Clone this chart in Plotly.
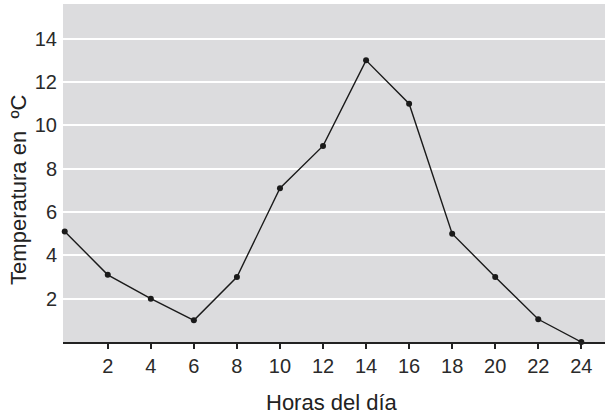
import plotly.graph_objects as go

horas = [0, 2, 4, 6, 8, 10, 12, 14, 16, 18, 20, 22, 24]
temperatura = [5.1, 3.1, 2.0, 1.0, 3.0, 7.1, 9.05, 13.0, 11.0, 5.0, 3.0, 1.05, 0.0]
ticks_x = [2, 4, 6, 8, 10, 12, 14, 16, 18, 20, 22, 24]
ticks_y = [2, 4, 6, 8, 10, 12, 14]

FUENTE = "Liberation Sans, Arial, sans-serif"

fig = go.Figure()
fig.add_trace(
    go.Scatter(
        x=horas,
        y=temperatura,
        mode="lines+markers",
        line=dict(color="#1a1a1a", width=1.4),
        marker=dict(color="#1a1a1a", size=6),
        cliponaxis=False,
        showlegend=False,
    )
)

fig.update_xaxes(
    range=[-0.08, 25.1],
    tickvals=ticks_x,
    ticks="outside",
    ticklen=5,
    tickwidth=1.5,
    tickcolor="#222",
    showgrid=False,
    zeroline=False,
    showline=True,
    linecolor="#222",
    linewidth=1.5,
    tickfont=dict(family=FUENTE, size=20, color="#2a2a2a"),
)
fig.update_yaxes(
    range=[0, 15.6],
    tickvals=ticks_y,
    showgrid=True,
    gridcolor="white",
    gridwidth=1.5,
    zeroline=False,
    showline=False,
    ticks="",
    ticklabelstandoff=5,
    tickfont=dict(family=FUENTE, size=20, color="#2a2a2a"),
)

# titulos de los ejes como anotaciones para ubicarlos como en el original
fig.add_annotation(
    text="Horas del día", xref="paper", yref="paper", x=0.496, y=0,
    xanchor="center", yanchor="middle", yshift=-60, showarrow=False,
    font=dict(family=FUENTE, size=22, color="#222"),
)
fig.add_annotation(
    text="Temperatura en  ºC", xref="paper", yref="paper", x=0, y=0.45,
    xanchor="center", yanchor="middle", xshift=-44, textangle=-90, showarrow=False,
    font=dict(family=FUENTE, size=22, color="#222"),
)

fig.update_layout(
    width=605,
    height=416,
    margin=dict(l=63, r=0, t=4, b=74),
    plot_bgcolor="#dcdcde",
    paper_bgcolor="white",
)
fig.write_html(
    "out.html",
    config={"displayModeBar": False},
    post_script="document.body.style.margin='0';",
)
